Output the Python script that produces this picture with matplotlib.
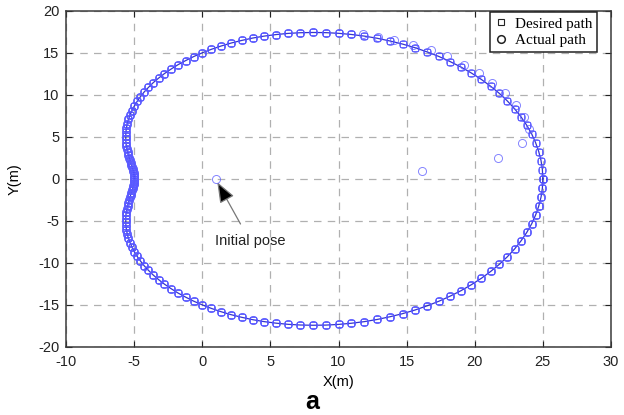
import matplotlib
matplotlib.use("Agg")
import matplotlib.pyplot as plt
from matplotlib.lines import Line2D

# desired path (counter-clockwise from (25, 0))
desired_x = [
    25.00, 24.97, 24.87, 24.70, 24.47, 24.18, 23.82, 23.40, 22.93, 22.39,
    21.81, 21.17, 20.49, 19.76, 19.00, 18.19, 17.36, 16.50, 15.61, 14.70,
    13.77, 12.84, 11.89, 10.95, 10.00, 9.06, 8.13, 7.20, 6.30, 5.41,
    4.55, 3.71, 2.91, 2.13, 1.38, 0.67, 0.00, -0.64, -1.23, -1.79,
    -2.30, -2.78, -3.21, -3.61, -3.96, -4.28, -4.55, -4.79, -5.00, -5.17,
    -5.31, -5.43, -5.51, -5.57, -5.61, -5.62, -5.62, -5.61, -5.58, -5.54,
    -5.49, -5.44, -5.38, -5.32, -5.27, -5.21, -5.16, -5.11, -5.07, -5.04,
    -5.02, -5.00, -5.00,
    -5.00, -5.02, -5.04, -5.07, -5.11, -5.16, -5.21, -5.27, -5.32, -5.38,
    -5.44, -5.49, -5.54, -5.58, -5.61, -5.62, -5.62, -5.61, -5.57, -5.51,
    -5.43, -5.31, -5.17, -5.00, -4.79, -4.55, -4.28, -3.96, -3.61, -3.21,
    -2.78, -2.30, -1.79, -1.23, -0.64, 0.00, 0.67, 1.38, 2.13, 2.91,
    3.71, 4.55, 5.41, 6.30, 7.20, 8.13, 9.06, 10.00, 10.95, 11.89,
    12.84, 13.77, 14.70, 15.61, 16.50, 17.36, 18.19, 19.00, 19.76, 20.49,
    21.17, 21.81, 22.39, 22.93, 23.40, 23.82, 24.18, 24.47, 24.70, 24.87,
    24.97, 25.00,
]
desired_y = [
    0.00, 1.09, 2.18, 3.25, 4.31, 5.36, 6.38, 7.38, 8.34, 9.28,
    10.17, 11.02, 11.83, 12.59, 13.30, 13.96, 14.57, 15.11, 15.61, 16.04,
    16.41, 16.73, 16.99, 17.18, 17.32, 17.40, 17.42, 17.39, 17.31, 17.17,
    16.99, 16.76, 16.48, 16.17, 15.81, 15.42, 15.00, 14.55, 14.07, 13.58,
    13.06, 12.53, 11.99, 11.44, 10.88, 10.32, 9.76, 9.21, 8.66, 8.12,
    7.59, 7.07, 6.57, 6.08, 5.61, 5.15, 4.72, 4.30, 3.90, 3.53,
    3.17, 2.83, 2.51, 2.20, 1.92, 1.64, 1.38, 1.13, 0.89, 0.66,
    0.44, 0.22, 0.00,
    -0.22, -0.44, -0.66, -0.89, -1.13, -1.38, -1.64, -1.92, -2.20, -2.51,
    -2.83, -3.17, -3.53, -3.90, -4.30, -4.72, -5.15, -5.61, -6.08, -6.57,
    -7.07, -7.59, -8.12, -8.66, -9.21, -9.76, -10.32, -10.88, -11.44, -11.99,
    -12.53, -13.06, -13.58, -14.07, -14.55, -15.00, -15.42, -15.81, -16.17, -16.48,
    -16.76, -16.99, -17.17, -17.31, -17.39, -17.42, -17.40, -17.32, -17.18, -16.99,
    -16.73, -16.41, -16.04, -15.61, -15.11, -14.57, -13.96, -13.30, -12.59, -11.83,
    -11.02, -10.17, -9.28, -8.34, -7.38, -6.38, -5.36, -4.31, -3.25, -2.18,
    -1.09, 0.00,
]

# actual path: start at the initial pose, converge, then track the desired path
start_x = [1.0, 16.1, 21.7, 23.5, 24.0, 23.6, 23.0, 22.2, 21.3, 20.3,
           19.2, 18.0, 16.8, 15.5, 14.1, 12.9, 11.8]
start_y = [0.0, 0.9, 2.5, 4.3, 5.9, 7.4, 8.8, 10.2, 11.4, 12.6,
           13.6, 14.6, 15.3, 15.9, 16.5, 16.9, 17.26]
join = 23  # index in desired path where the robot is on track
actual_x = start_x + desired_x[join:] + desired_x
actual_y = start_y + desired_y[join:] + desired_y

x_ticks = [-10, -5, 0, 5, 10, 15, 20, 25, 30]
y_ticks = [-20, -15, -10, -5, 0, 5, 10, 15, 20]

plt.rcParams['font.family'] = ['Liberation Sans', 'DejaVu Sans']
plt.rcParams['axes.unicode_minus'] = False

fig = plt.figure(figsize=(6.24, 4.15), dpi=100)
ax = fig.add_axes([0.106, 0.164, 0.873, 0.810])

ax.plot(desired_x, desired_y, color='#1010c8', lw=0.9, marker='s', ms=4.6,
        mfc='none', mec='#4a4aff', mew=0.7, alpha=0.85, zorder=3)
ax.plot(actual_x, actual_y, ls='none', marker='o', ms=5.8, mfc='none',
        mec='#5c5cff', mew=0.7, alpha=0.75, zorder=4)

ax.set_xlim(-10, 30)
ax.set_ylim(-20, 20)
ax.set_xticks(x_ticks)
ax.set_yticks(y_ticks)
ax.tick_params(direction='in', top=True, right=True, length=4, labelsize=10.5,
               colors='#222222')
ax.tick_params(axis='x', pad=6)
ax.tick_params(axis='y', pad=5)
for s in ax.spines.values():
    s.set_color('#3a3a3a')
    s.set_linewidth(1.1)
ax.grid(True, ls=(0, (6, 5)), color='#b0b0b0', lw=0.9)
ax.set_axisbelow(True)

ax.set_xlabel('X(m)', fontsize=10.5, labelpad=4)
ax.set_ylabel('Y(m)', fontsize=10.5, labelpad=12)

ax.annotate('Initial pose', xy=(1.1, -0.4), xytext=(3.5, -7.4),
            ha='center', va='center', fontsize=10.5, color='#222222',
            arrowprops=dict(arrowstyle='-|>,head_length=0.9,head_width=0.35',
                            facecolor='black', edgecolor='#777777', lw=0.9,
                            shrinkA=6, shrinkB=0, mutation_scale=14))

handles = [
    Line2D([], [], ls='none', marker='s', ms=4.5, mfc='none', mec='#222222', mew=0.8),
    Line2D([], [], ls='none', marker='o', ms=5.5, mfc='none', mec='#222222', mew=1.1),
]
leg = ax.legend(handles, ['Desired path', 'Actual path'], loc='upper right',
                bbox_to_anchor=(0.974, 0.995), fancybox=False, framealpha=1,
                edgecolor='#222222', prop={'family': 'Liberation Serif', 'size': 11},
                handlelength=0.8, handletextpad=0.5, borderpad=0.3,
                labelspacing=0.2, borderaxespad=0)
leg.get_frame().set_linewidth(1.1)

fig.text(0.5, 0.032, 'a', ha='center', va='center', fontsize=18, fontweight='bold')

fig.savefig('out.png', dpi=100)
